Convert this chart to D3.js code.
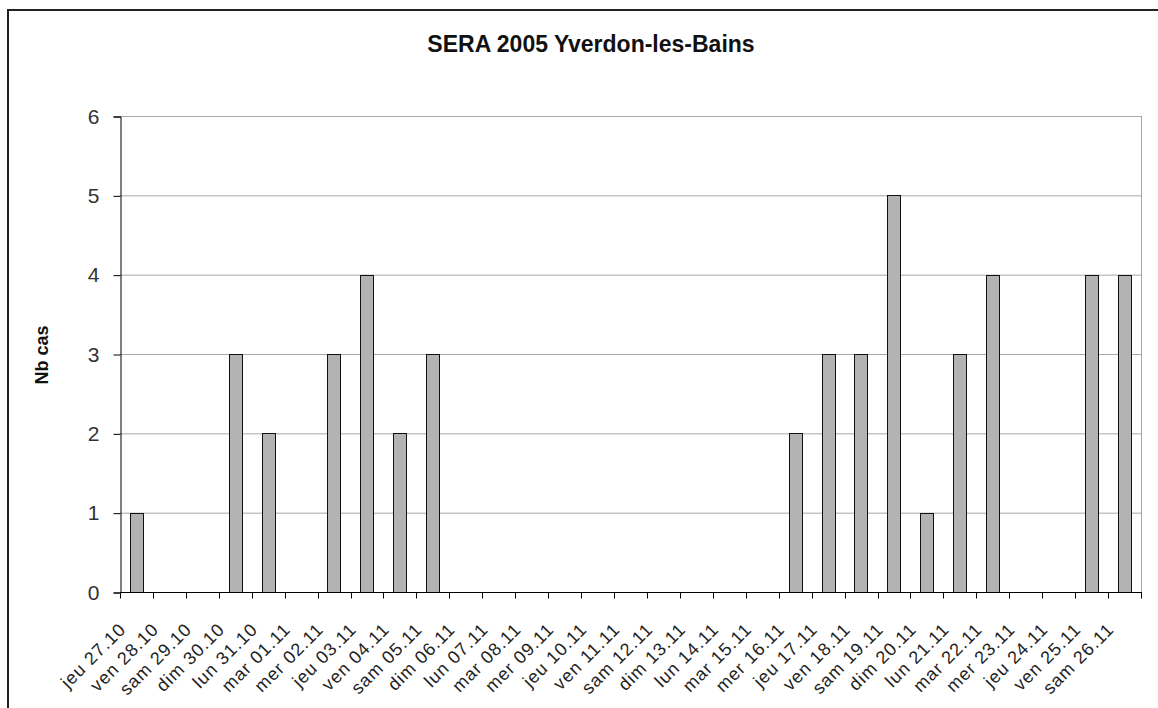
<!DOCTYPE html>
<meta charset="utf-8">
<title>SERA 2005 Yverdon-les-Bains</title>
<style>
body { margin: 0; background: #fff; }
text { font-family: "Liberation Sans", Arial, sans-serif; }
.grid line { stroke: #a8a8a8; stroke-width: 1; }
.bar { fill: #b3b3b3; stroke: #111; stroke-width: 1; }
</style>
<body>
<script src="https://d3js.org/d3.v7.min.js"></script>
<script>

var days = ["jeu 27.10","ven 28.10","sam 29.10","dim 30.10","lun 31.10","mar 01.11","mer 02.11",
  "jeu 03.11","ven 04.11","sam 05.11","dim 06.11","lun 07.11","mar 08.11","mer 09.11",
  "jeu 10.11","ven 11.11","sam 12.11","dim 13.11","lun 14.11","mar 15.11","mer 16.11",
  "jeu 17.11","ven 18.11","sam 19.11","dim 20.11","lun 21.11","mar 22.11","mer 23.11",
  "jeu 24.11","ven 25.11","sam 26.11"];
var cases = [1,0,0,3,2,0,3,4,2,3,0,0,0,0,0,0,0,0,0,0,2,3,3,5,1,3,4,0,0,4,4];
var yTicks = [0,1,2,3,4,5,6];
var title = "SERA 2005 Yverdon-les-Bains";
var yTitle = "Nb cas";

var width = 1158, height = 708;
var pLeft = 120, pRight = 1141, pTop = 116, pBottom = 592;

var svg = d3.select("body").append("svg")
    .attr("width", width)
    .attr("height", height);

// outer frame (cut off at right and bottom like the original)
svg.append("rect")
    .attr("x", 8).attr("y", 10)
    .attr("width", 1200).attr("height", 800)
    .attr("fill", "none")
    .attr("stroke", "#222")
    .attr("stroke-width", 2);

var x = d3.scaleBand()
    .domain(days)
    .range([pLeft, pRight])
    .paddingInner(0.6)
    .paddingOuter(0.3);

// band boundaries for ticks
var step = (pRight - pLeft) / days.length;

var y = d3.scaleLinear()
    .domain([0, 6])
    .range([pBottom, pTop]);

// gridlines
svg.append("g")
    .attr("class", "grid")
    .selectAll("line")
    .data(yTicks.filter(function(d) { return d > 0; }))
    .enter().append("line")
      .attr("x1", pLeft).attr("x2", pRight)
      .attr("y1", function(d) { return y(d) + 0.5; })
      .attr("y2", function(d) { return y(d) + 0.5; });

// right border of plot area
svg.append("line")
    .attr("x1", pRight + 0.5).attr("x2", pRight + 0.5)
    .attr("y1", pTop).attr("y2", pBottom)
    .attr("stroke", "#a8a8a8");

// bars
svg.append("g")
    .selectAll("rect")
    .data(cases.map(function(v, i) { return {day: days[i], v: v}; }).filter(function(d) { return d.v > 0; }))
    .enter().append("rect")
      .attr("class", "bar")
      .attr("x", function(d) { return Math.round(x(d.day)) + 0.5; })
      .attr("y", function(d) { return Math.round(y(d.v)) + 0.5; })
      .attr("width", Math.round(x.bandwidth()))
      .attr("height", function(d) { return Math.round(y(0)) - Math.round(y(d.v)); });

// y axis
var yAxis = svg.append("g")
    .attr("transform", "translate(" + (pLeft + 0.5) + ",0.5)")
    .call(d3.axisLeft(y).tickValues(yTicks).tickSize(7).tickPadding(14).tickFormat(d3.format("d")));
yAxis.select(".domain").attr("stroke", "#000");
yAxis.selectAll(".tick line").attr("stroke", "#000");
yAxis.selectAll("text")
    .style("font-size", "21px")
    .style("font-family", "'Liberation Sans', Arial, sans-serif")
    .attr("fill", "#333");

// x axis with ticks at band edges
var xAxis = svg.append("g")
    .attr("transform", "translate(0," + (pBottom + 0.5) + ")");
xAxis.append("line")
    .attr("x1", pLeft).attr("x2", pRight + 1)
    .attr("stroke", "#000");
xAxis.selectAll(".xt")
    .data(d3.range(days.length + 1))
    .enter().append("line")
      .attr("x1", function(i) { return Math.round(pLeft + i * step) + 0.5; })
      .attr("x2", function(i) { return Math.round(pLeft + i * step) + 0.5; })
      .attr("y1", 0).attr("y2", 6)
      .attr("stroke", "#000");
xAxis.selectAll(".xl")
    .data(days)
    .enter().append("text")
      .attr("transform", function(d) {
        return "translate(" + (x(d) + x.bandwidth() / 2 - 9.5) + ",38) rotate(-45)";
      })
      .attr("text-anchor", "end")
      .style("font-size", "18px")
      .style("letter-spacing", "1px")
      .attr("fill", "#222")
      .text(function(d) { return d; });

// title
svg.append("text")
    .attr("x", 591).attr("y", 52)
    .attr("text-anchor", "middle")
    .style("font-size", "23px")
    .style("font-weight", "bold")
    .attr("fill", "#111")
    .text(title);

// y axis title
svg.append("text")
    .attr("transform", "translate(48,355) rotate(-90)")
    .attr("text-anchor", "middle")
    .style("font-size", "18px")
    .style("font-weight", "bold")
    .attr("fill", "#111")
    .text(yTitle);

</script>
